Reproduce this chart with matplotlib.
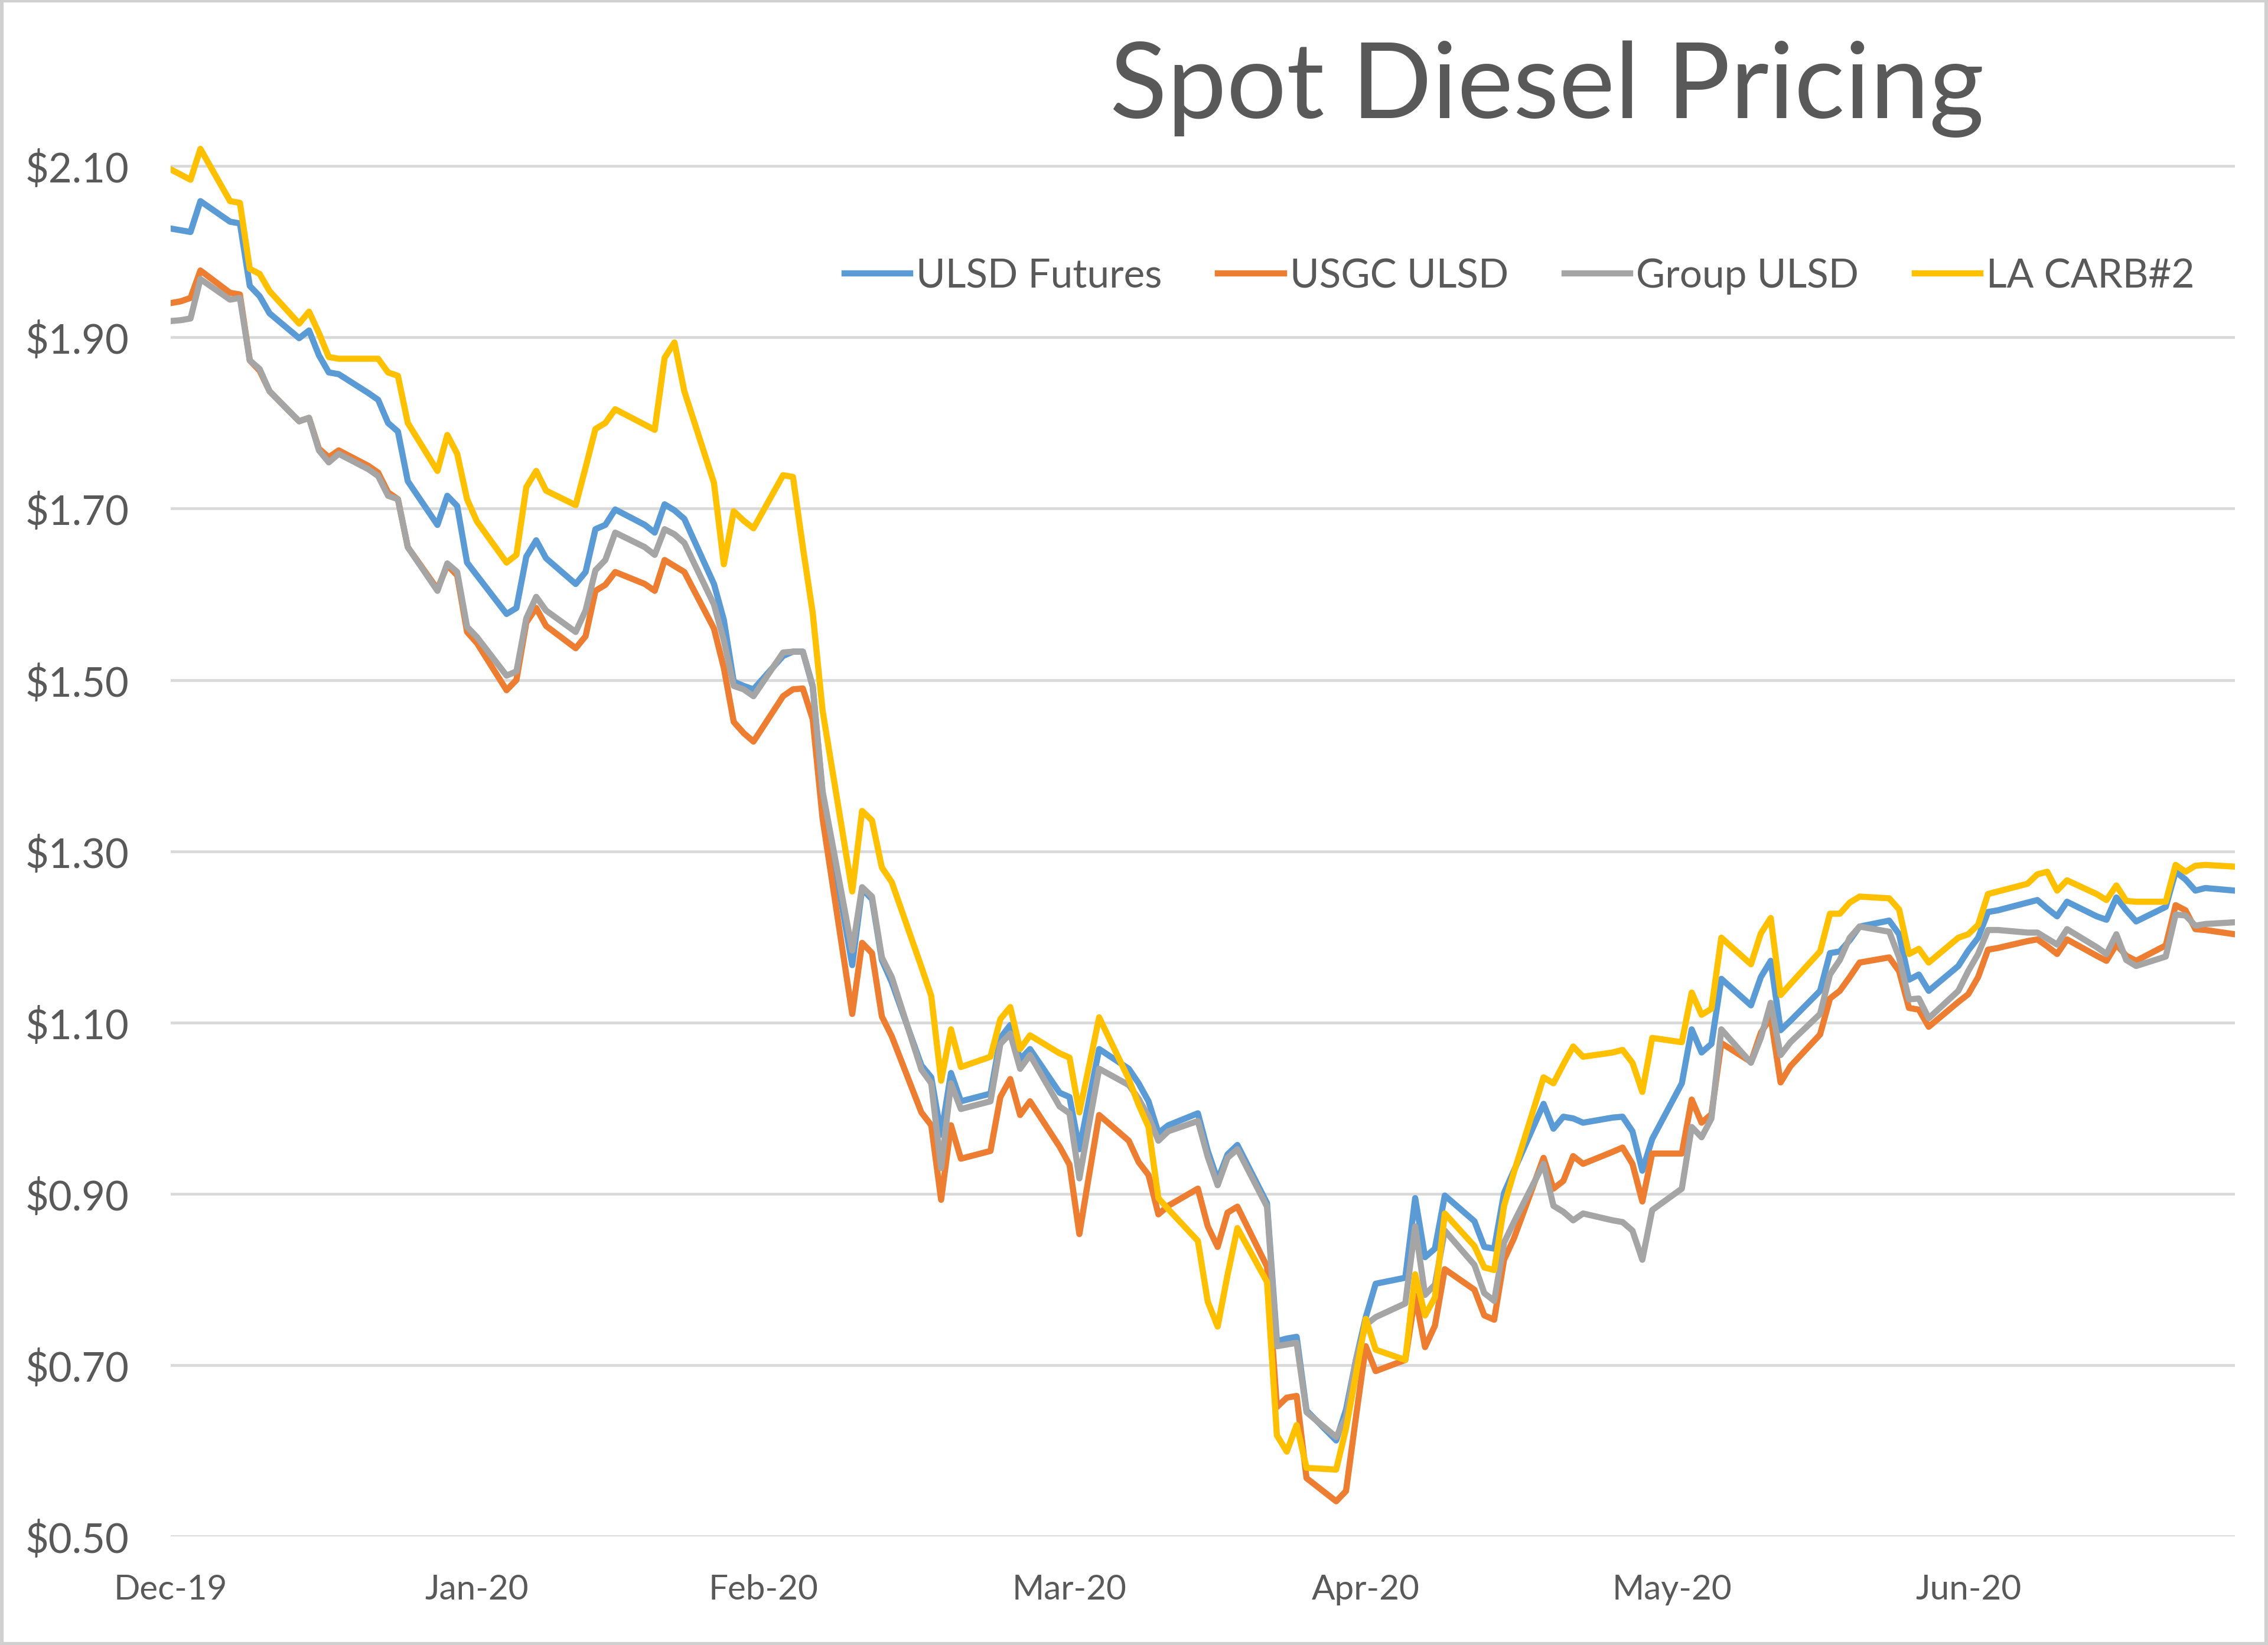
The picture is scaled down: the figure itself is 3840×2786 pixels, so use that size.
import pandas as pd
import matplotlib.pyplot as plt
import matplotlib.dates as mdates
from matplotlib.patches import Rectangle
from matplotlib.ticker import FuncFormatter

# one value per weekday, 3 Dec 2019 .. 29 Jun 2020 ($/gal)
dates = pd.bdate_range('2019-12-03', '2020-06-29')

ulsd_futures = (
    [2.027, 2.025, 2.023, 2.059, 2.035, 2.033, 1.960, 1.948, 1.928, 1.899, 1.908, 1.879, 1.859, 1.857, 1.835, 1.827, 1.800, 1.790, 1.732, 1.681, 1.715]
    + [1.703, 1.637, 1.622, 1.577, 1.584, 1.644, 1.663, 1.642, 1.612, 1.626, 1.676, 1.681, 1.699, 1.681, 1.672, 1.705, 1.698, 1.688, 1.612, 1.570, 1.498, 1.493, 1.489]
    + [1.528, 1.533, 1.533, 1.492, 1.367, 1.167, 1.256, 1.244, 1.173, 1.147, 1.050, 1.036, 0.969, 1.041, 1.008, 1.017, 1.082, 1.097, 1.057, 1.069]
    + [1.018, 1.013, 0.952, 1.011, 1.069, 1.046, 1.029, 1.008, 0.971, 0.980, 0.994, 0.950, 0.916, 0.946, 0.957, 0.889, 0.728, 0.731, 0.733, 0.647, 0.612, 0.648]
    + [0.706, 0.756, 0.795, 0.802, 0.895, 0.826, 0.836, 0.898, 0.868, 0.838, 0.836, 0.901, 0.927, 1.005, 0.976, 0.990, 0.988, 0.983, 0.989, 0.990, 0.973, 0.927]
    + [0.964, 1.029, 1.092, 1.065, 1.075, 1.151, 1.120, 1.153, 1.172, 1.091, 1.102, 1.137, 1.181, 1.183, 1.196, 1.212, 1.219, 1.203, 1.150, 1.156, 1.137]
    + [1.166, 1.184, 1.199, 1.229, 1.231, 1.240, 1.243, 1.233, 1.224, 1.241, 1.224, 1.220, 1.246, 1.231, 1.218, 1.235, 1.276, 1.267, 1.254, 1.257, 1.254]
)

usgc_ulsd = (
    [1.940, 1.942, 1.946, 1.978, 1.952, 1.950, 1.873, 1.861, 1.837, 1.802, 1.806, 1.770, 1.760, 1.768, 1.750, 1.742, 1.719, 1.711, 1.655, 1.606, 1.634]
    + [1.622, 1.556, 1.543, 1.488, 1.500, 1.567, 1.584, 1.563, 1.537, 1.551, 1.604, 1.611, 1.626, 1.612, 1.604, 1.640, 1.633, 1.626, 1.560, 1.514, 1.451, 1.438, 1.428]
    + [1.481, 1.489, 1.490, 1.454, 1.338, 1.110, 1.193, 1.181, 1.107, 1.084, 0.995, 0.980, 0.893, 0.980, 0.941, 0.950, 1.013, 1.034, 0.992, 1.008]
    + [0.955, 0.934, 0.853, 0.923, 0.992, 0.962, 0.937, 0.922, 0.876, 0.886, 0.906, 0.862, 0.838, 0.878, 0.885, 0.815, 0.651, 0.662, 0.664, 0.568, 0.541, 0.553]
    + [0.639, 0.722, 0.693, 0.706, 0.781, 0.721, 0.746, 0.812, 0.788, 0.758, 0.753, 0.823, 0.848, 0.942, 0.906, 0.915, 0.944, 0.935, 0.949, 0.954, 0.935, 0.891]
    + [0.947, 0.947, 1.010, 0.983, 0.993, 1.076, 1.054, 1.088, 1.106, 1.030, 1.049, 1.086, 1.128, 1.137, 1.153, 1.170, 1.176, 1.160, 1.117, 1.115, 1.095]
    + [1.124, 1.133, 1.153, 1.185, 1.187, 1.195, 1.197, 1.189, 1.180, 1.197, 1.178, 1.172, 1.191, 1.178, 1.172, 1.190, 1.237, 1.231, 1.209, 1.208, 1.203]
)

group_ulsd = (
    [1.919, 1.920, 1.922, 1.968, 1.944, 1.946, 1.873, 1.863, 1.837, 1.802, 1.806, 1.768, 1.754, 1.764, 1.746, 1.738, 1.715, 1.711, 1.655, 1.604, 1.636]
    + [1.626, 1.562, 1.550, 1.505, 1.510, 1.572, 1.597, 1.581, 1.556, 1.581, 1.628, 1.640, 1.672, 1.655, 1.646, 1.676, 1.670, 1.660, 1.588, 1.546, 1.493, 1.489, 1.481]
    + [1.532, 1.533, 1.533, 1.493, 1.370, 1.184, 1.258, 1.247, 1.176, 1.153, 1.045, 1.029, 0.930, 1.029, 0.999, 1.008, 1.075, 1.087, 1.046, 1.062]
    + [1.002, 0.994, 0.918, 0.983, 1.046, 1.027, 1.011, 0.990, 0.962, 0.973, 0.985, 0.943, 0.910, 0.942, 0.952, 0.885, 0.722, 0.724, 0.726, 0.645, 0.616, 0.639]
    + [0.706, 0.747, 0.756, 0.772, 0.862, 0.782, 0.794, 0.857, 0.817, 0.784, 0.775, 0.843, 0.867, 0.935, 0.886, 0.879, 0.869, 0.877, 0.869, 0.867, 0.857, 0.823]
    + [0.881, 0.906, 0.978, 0.966, 0.988, 1.092, 1.053, 1.082, 1.123, 1.062, 1.077, 1.110, 1.156, 1.173, 1.199, 1.212, 1.206, 1.176, 1.127, 1.128, 1.105]
    + [1.137, 1.160, 1.180, 1.208, 1.208, 1.205, 1.205, 1.198, 1.191, 1.209, 1.188, 1.180, 1.203, 1.173, 1.166, 1.177, 1.226, 1.225, 1.213, 1.215, 1.217]
)

la_carb2 = (
    [2.096, 2.090, 2.084, 2.120, 2.059, 2.057, 1.980, 1.974, 1.954, 1.916, 1.930, 1.905, 1.877, 1.875, 1.875, 1.875, 1.859, 1.855, 1.800, 1.744, 1.786]
    + [1.764, 1.711, 1.685, 1.637, 1.646, 1.725, 1.744, 1.721, 1.704, 1.748, 1.793, 1.800, 1.816, 1.798, 1.792, 1.876, 1.894, 1.837, 1.730, 1.635, 1.697, 1.686, 1.677]
    + [1.739, 1.737, 1.655, 1.578, 1.464, 1.253, 1.347, 1.336, 1.281, 1.264, 1.165, 1.131, 1.032, 1.092, 1.048, 1.060, 1.104, 1.118, 1.069, 1.085]
    + [1.064, 1.059, 0.995, 1.050, 1.106, 1.034, 1.004, 0.978, 0.895, 0.882, 0.845, 0.774, 0.745, 0.805, 0.860, 0.797, 0.618, 0.599, 0.630, 0.580, 0.578, 0.626]
    + [0.689, 0.754, 0.718, 0.706, 0.806, 0.758, 0.779, 0.877, 0.839, 0.814, 0.811, 0.886, 0.925, 1.036, 1.029, 1.051, 1.072, 1.060, 1.065, 1.068, 1.053, 1.019]
    + [1.082, 1.077, 1.135, 1.109, 1.116, 1.199, 1.168, 1.204, 1.222, 1.132, 1.145, 1.183, 1.227, 1.227, 1.240, 1.247, 1.245, 1.232, 1.180, 1.186, 1.170]
    + [1.199, 1.203, 1.214, 1.250, 1.253, 1.262, 1.273, 1.276, 1.254, 1.266, 1.250, 1.243, 1.260, 1.242, 1.241, 1.241, 1.284, 1.276, 1.283, 1.284, 1.282]
)

series_names = ['ULSD Futures', 'USGC ULSD', 'Group ULSD', 'LA CARB#2']
series_colors = ['#5B9BD5', '#ED7D31', '#A5A5A5', '#FFC000']

y_ticks = [0.50, 0.70, 0.90, 1.10, 1.30, 1.50, 1.70, 1.90, 2.10]
# where Excel put the month labels on its date axis
x_ticks = ['2019-12-03', '2020-01-03', '2020-02-01', '2020-03-03', '2020-04-02', '2020-05-03', '2020-06-02']

TEXT = '#595959'


def main():
    plt.rcParams['font.family'] = ['Lato', 'DejaVu Sans']

    fig = plt.figure(figsize=(12.8, 9.29), dpi=300)
    ax = fig.add_axes([0.0753, 0.066, 0.9101, 0.8848])

    df = pd.DataFrame({'date': dates,
                       'ULSD Futures': ulsd_futures,
                       'USGC ULSD': usgc_ulsd,
                       'Group ULSD': group_ulsd,
                       'LA CARB#2': la_carb2})

    handles = []
    for name, color in zip(series_names, series_colors):
        line, = ax.plot(df['date'], df[name], color=color, lw=2.5,
                        solid_joinstyle='round', label=name)
        handles.append(line)

    ax.set_xlim(dates[0], dates[-1])
    ax.set_ylim(0.50, 2.20)
    ax.set_yticks(y_ticks)
    ax.yaxis.set_major_formatter(FuncFormatter(lambda v, p: f'${v:.2f}'))
    ax.set_xticks(pd.to_datetime(x_ticks))
    ax.xaxis.set_major_formatter(mdates.DateFormatter('%b-%y'))

    ax.grid(axis='y', color='#d9d9d9', lw=1.1)
    ax.set_axisbelow(True)
    for s in ax.spines.values():
        s.set_visible(False)
    ax.tick_params(axis='y', length=0, pad=17, labelsize=16.5, labelcolor=TEXT)
    ax.tick_params(axis='x', length=0, pad=15, labelsize=14, labelcolor=TEXT)

    fig.text(0.682, 0.946, 'Spot Diesel Pricing', fontsize=43, color=TEXT,
             ha='center', va='center')

    fig.legend(handles, series_names, loc='center', bbox_to_anchor=(0.670, 0.832),
               ncol=4, frameon=False, fontsize=16.2, handlelength=1.65,
               handletextpad=0.15, columnspacing=1.4, labelcolor=TEXT)

    # light chart-area border like the Excel original
    fig.patches.append(Rectangle((0.0008, 0.0008), 0.9984, 0.9984, transform=fig.transFigure,
                                 fill=False, edgecolor='#d0d0d0', lw=1.5))

    fig.savefig('out.png', dpi=300, facecolor='white')
    plt.close(fig)


if __name__ == '__main__':
    main()
